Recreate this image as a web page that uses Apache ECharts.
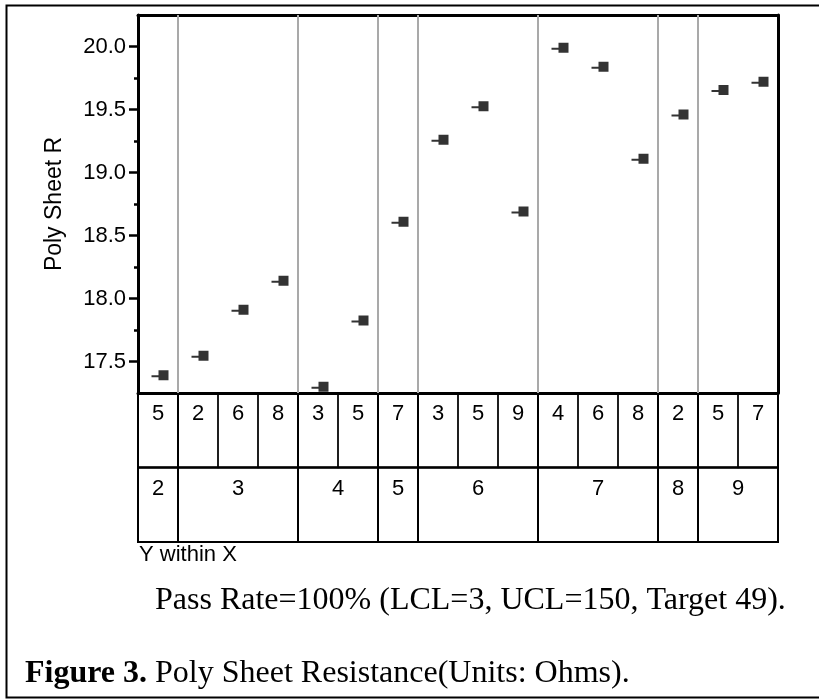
<!DOCTYPE html>
<html>
<head>
<meta charset="utf-8">
<title>Poly Sheet Resistance</title>
<script src="https://cdn.jsdelivr.net/npm/echarts@6/dist/echarts.min.js"></script>
<style>
  html, body { margin: 0; padding: 0; background: #fff; }
  #chart { width: 819px; height: 700px; }
</style>
</head>
<body>
<div id="chart"></div>
<script>
// Y within X
var withinLabels = ["5", "2", "6", "8", "3", "5", "7", "3", "5", "9", "4", "6", "8", "2", "5", "7"];
var groupLabels = ["2", "3", "3", "3", "4", "4", "5", "6", "6", "6", "7", "7", "7", "8", "9", "9"];
var sheetR = [17.39, 17.545, 17.91, 18.14, 17.30, 17.825, 18.61, 19.26, 19.525, 18.69,
  19.99, 19.84, 19.11, 19.46, 19.655, 19.72];
var yMajorTicks = [17.5, 18.0, 18.5, 19.0, 19.5, 20.0];
var yMinorTicks = [17.75, 18.25, 18.75, 19.25, 19.75];

var sans = "'Liberation Sans', Arial, sans-serif";
var serif = "'Liberation Serif', 'Times New Roman', serif";

// runs of the outer factor -> [start, end, label]
var groups = [];
groupLabels.forEach(function (g, i) {
  var last = groups[groups.length - 1];
  if (last && last[2] === g) last[1] = i + 1;
  else groups.push([i, i + 1, g]);
});
var boundaries = groups.slice(1).map(function (g) { return g[0]; });

var pointData = sheetR.map(function (v, i) { return [i + 0.5, v]; });

// table cells: [x0, x1, row, label, lineWidth]
var cells = [];
withinLabels.forEach(function (lab, i) { cells.push([i, i + 1, 0, lab, 1.3]); });
groups.forEach(function (g) { cells.push([g[0], g[1], 0, "", 2]); });
groups.forEach(function (g) { cells.push([g[0], g[1], 1, g[2], 2]); });

var chart = echarts.init(document.getElementById("chart"));

chart.setOption({
  animation: false,
  backgroundColor: "#fff",
  grid: [
    { left: 138, top: 15, width: 640, height: 378 },
    { left: 138, top: 393, width: 640, height: 149 }
  ],
  xAxis: [
    {
      gridIndex: 0, type: "value", min: 0, max: 16, position: "bottom",
      axisLine: { show: true, lineStyle: { color: "#000", width: 3 } },
      axisTick: { show: false }, axisLabel: { show: false }, splitLine: { show: false }
    },
    {
      gridIndex: 0, type: "value", min: 0, max: 16, position: "top",
      axisLine: { show: true, lineStyle: { color: "#000", width: 3 } },
      axisTick: { show: false }, axisLabel: { show: false }, splitLine: { show: false }
    },
    {
      gridIndex: 1, type: "value", min: 0, max: 16, show: false
    }
  ],
  yAxis: [
    {
      gridIndex: 0, type: "value", min: 17.25, max: 20.25, position: "left",
      name: "Poly Sheet R", nameLocation: "middle", nameGap: 72,
      nameTextStyle: { fontFamily: sans, fontSize: 23, color: "#000" },
      axisLine: { show: true, lineStyle: { color: "#000", width: 3 } },
      axisTick: { show: true, customValues: yMajorTicks, length: 9, lineStyle: { color: "#000", width: 2.5 } },
      axisLabel: {
        customValues: yMajorTicks, margin: 12, fontFamily: sans, fontSize: 22, color: "#000",
        formatter: function (v) { return v.toFixed(1); }
      },
      splitLine: { show: false }
    },
    {
      gridIndex: 0, type: "value", min: 17.25, max: 20.25, position: "left",
      axisLine: { show: false },
      axisTick: { show: true, customValues: yMinorTicks, length: 4, lineStyle: { color: "#000", width: 2.5 } },
      axisLabel: { show: false }, splitLine: { show: false }
    },
    {
      gridIndex: 0, type: "value", min: 17.25, max: 20.25, position: "right",
      axisLine: { show: true, lineStyle: { color: "#000", width: 3 } },
      axisTick: { show: false }, axisLabel: { show: false }, splitLine: { show: false }
    },
    {
      gridIndex: 1, type: "value", min: 0, max: 2, inverse: true, show: false
    }
  ],
  series: [
    {
      type: "scatter",
      xAxisIndex: 0, yAxisIndex: 0,
      symbol: "path://M0,5L7,5L7,0L17,0L17,10L7,10L7,7L0,7Z",
      symbolSize: [17, 10],
      symbolOffset: [2, 0],
      itemStyle: { color: "#000" },
      data: pointData,
      z: 5,
      markLine: {
        silent: true,
        symbol: "none",
        label: { show: false },
        lineStyle: { color: "#a9a9a9", width: 2, type: "solid" },
        data: boundaries.map(function (b) { return { xAxis: b }; })
      }
    },
    {
      type: "custom",
      xAxisIndex: 2, yAxisIndex: 3,
      data: cells,
      renderItem: function (params, api) {
        var x0 = api.value(0), x1 = api.value(1), row = api.value(2);
        var p0 = api.coord([x0, row]);
        var p1 = api.coord([x1, row + 1]);
        var c = cells[params.dataIndex];
        var children = [{
          type: "rect",
          shape: { x: p0[0], y: p0[1], width: p1[0] - p0[0], height: p1[1] - p0[1] },
          style: { fill: "none", stroke: "#000", lineWidth: c[4] }
        }];
        if (c[3]) {
          children.push({
            type: "text",
            style: {
              text: c[3], x: (p0[0] + p1[0]) / 2, y: p0[1] + 21,
              align: "center", verticalAlign: "middle",
              font: "22px " + sans, fill: "#000"
            }
          });
        }
        return { type: "group", children: children };
      }
    }
  ],
  graphic: [
    {
      type: "rect", left: 4, top: 3, silent: true,
      shape: { width: 830, height: 692 },
      style: { fill: "none", stroke: "#000", lineWidth: 2 }
    },
    {
      type: "text", left: 139, top: 544, silent: true,
      style: { text: "Y within X", font: "22px " + sans, fill: "#000" }
    },
    {
      type: "text", left: 155, top: 585, silent: true,
      style: { text: "Pass Rate=100% (LCL=3, UCL=150, Target 49).", font: "32px " + serif, fill: "#000" }
    },
    {
      type: "text", left: 25, top: 658, silent: true,
      style: {
        text: "{b|Figure 3.} Poly Sheet Resistance(Units: Ohms).",
        font: "32px " + serif, fill: "#000",
        rich: { b: { fontWeight: "bold", fontFamily: serif, fontSize: 32, fill: "#000" } }
      }
    }
  ]
});
</script>
</body>
</html>
